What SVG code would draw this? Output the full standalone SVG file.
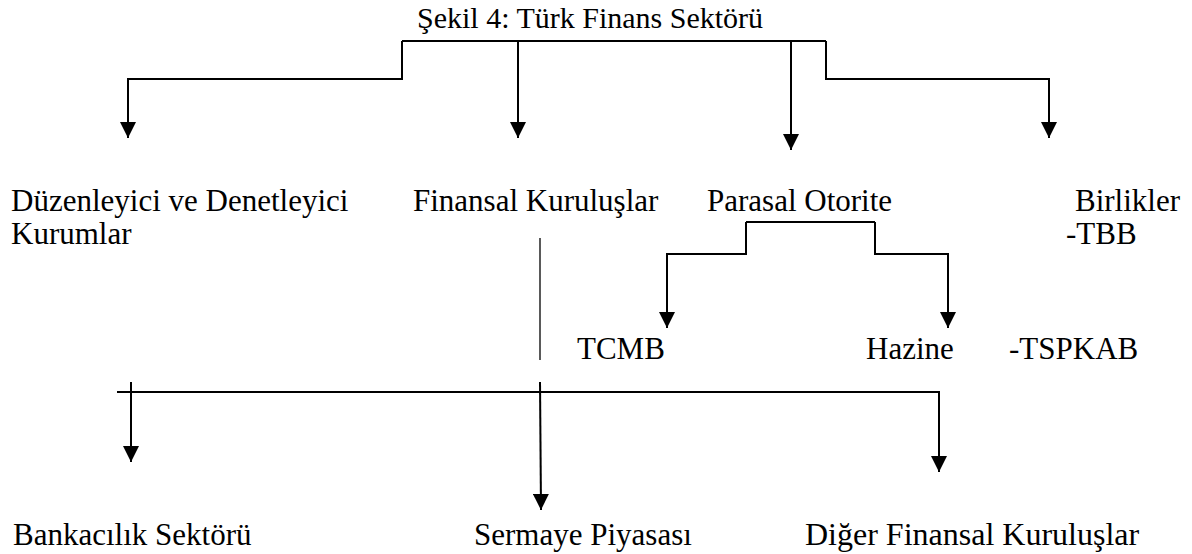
<svg xmlns="http://www.w3.org/2000/svg" width="1192" height="554" viewBox="0 0 1192 554">
<defs>
<style>
text{font-family:"Liberation Serif","Times New Roman",serif;font-size:31px;fill:#000}
.ttl{font-size:30px}
.c{fill:none;stroke:#000;stroke-width:2}
.t{fill:none;stroke:#000;stroke-width:1.3}
</style>
<marker id="ah" viewBox="0 0 16 16" refX="16" refY="8" markerWidth="16" markerHeight="16" markerUnits="userSpaceOnUse" orient="auto"><path d="M0,0 L16,8 L0,16 Z" fill="#000"/></marker>
</defs>
<rect width="1192" height="554" fill="#fff"/>
<g id="title"><text class="ttl" x="417" y="28">Şekil 4: Türk Finans Sektörü</text></g>
<g id="duzenleyici"><text x="11" y="211">Düzenleyici ve Denetleyici</text><text x="11" y="244">Kurumlar</text></g>
<g id="finansal"><text x="413" y="211">Finansal Kuruluşlar</text></g>
<g id="parasal"><text x="707" y="211">Parasal Otorite</text></g>
<g id="birlikler"><text x="1075" y="211">Birlikler</text><text x="1066" y="244">-TBB</text><text x="1009" y="359">-TSPKAB</text></g>
<g id="tcmb"><text x="577" y="359">TCMB</text></g>
<g id="hazine"><text x="866" y="359">Hazine</text></g>
<g id="bankacilik"><text x="13" y="545">Bankacılık Sektörü</text></g>
<g id="sermaye"><text x="474" y="545">Sermaye Piyasası</text></g>
<g id="diger"><text x="805" y="545" style="font-size:32px">Diğer Finansal Kuruluşlar</text></g>
<g id="connectors">
<path class="c" d="M402,41 H826"/>
<path class="c" d="M402,41 V79 H128 V138" marker-end="url(#ah)"/>
<path class="c" d="M518,41 V138" marker-end="url(#ah)"/>
<path class="c" d="M791,41 V150" marker-end="url(#ah)"/>
<path class="c" d="M826,41 V79 H1049 V138" marker-end="url(#ah)"/>
<path class="t" d="M540,238 V360"/>
<path class="c" d="M746,222 H875"/>
<path class="c" d="M746,222 V254 H667 V328" marker-end="url(#ah)"/>
<path class="c" d="M875,222 V254 H948 V328" marker-end="url(#ah)"/>
<path class="c" d="M117,392 H939 V472" marker-end="url(#ah)"/>
<path class="c" d="M131,382 V462" marker-end="url(#ah)"/>
<path class="c" d="M540,382 L541,510" marker-end="url(#ah)"/>
</g>
</svg>
